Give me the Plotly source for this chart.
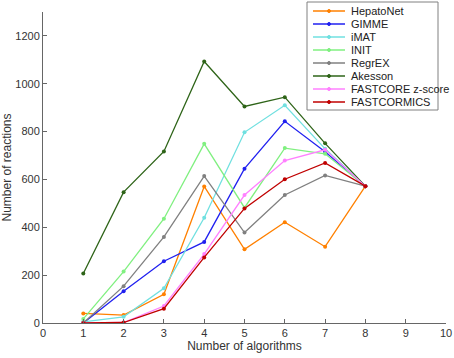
import plotly.graph_objects as go

x_vals = [1, 2, 3, 4, 5, 6, 7, 8]

series_names = ["HepatoNet", "GIMME", "iMAT", "INIT", "RegrEX", "Akesson",
                "FASTCORE z-score", "FASTCORMICS"]

hepatonet = [40, 33, 120, 571, 308, 421, 319, 572]
gimme = [0, 133, 258, 339, 645, 843, 716, 572]
imat = [5, 26, 145, 440, 797, 910, 728, 572]
init = [17, 215, 436, 749, 482, 731, 707, 572]
regrex = [0, 154, 360, 614, 378, 535, 617, 572]
akesson = [207, 547, 717, 1093, 905, 944, 751, 572]
fastcore = [0, 2, 71, 288, 535, 679, 724, 572]
fastcormics = [0, 2, 60, 274, 479, 601, 669, 572]

series_values = [hepatonet, gimme, imat, init, regrex, akesson, fastcore, fastcormics]
colors = ["#FF8000", "#2020F0", "#70E0E0", "#80F080", "#808080", "#2E6418",
          "#FF80FF", "#C00000"]

x_tickvals = [0, 1, 2, 3, 4, 5, 6, 7, 8, 9, 10]
y_tickvals = [0, 200, 400, 600, 800, 1000, 1200]

W, H = 454, 358
ML, MR, MT, MB = 43, 8, 12, 35
PW, PH = W - ML - MR, H - MT - MB

FONT = "Liberation Sans, Arial, sans-serif"

fig = go.Figure()
for name, vals, col in zip(series_names, series_values, colors):
    fig.add_trace(go.Scatter(
        x=x_vals, y=vals, name=name, mode="lines+markers",
        line=dict(color=col, width=1.3),
        marker=dict(color=col, size=4),
        showlegend=False,
    ))


def px_x(p):
    return (p - ML) / PW


def px_y(p):
    return (H - MB - p) / PH


# custom compact legend (layout only)
shapes = []
annotations = []
box_l, box_r, box_t, box_b = 307, 438, 2, 110
shapes.append(dict(type="rect", xref="paper", yref="paper",
                   x0=px_x(box_l), x1=px_x(box_r), y0=px_y(box_b), y1=px_y(box_t),
                   line=dict(color="#808080", width=1), fillcolor="white", layer="above"))
row0, step = 11, 13
for i, (name, col) in enumerate(zip(series_names, colors)):
    cy = row0 + i * step
    shapes.append(dict(type="line", xref="paper", yref="paper",
                       x0=px_x(313), x1=px_x(345), y0=px_y(cy), y1=px_y(cy),
                       line=dict(color=col, width=1.5), layer="above"))
    shapes.append(dict(type="circle", xref="paper", yref="paper",
                       x0=px_x(327.5), x1=px_x(330.5), y0=px_y(cy + 1.5), y1=px_y(cy - 1.5),
                       line=dict(color=col, width=1), fillcolor=col, layer="above"))
    annotations.append(dict(text=name, xref="paper", yref="paper",
                            x=px_x(349), y=px_y(cy), xanchor="left", yanchor="middle",
                            showarrow=False,
                            font=dict(family=FONT, size=11, color="#222222")))

fig.update_layout(
    width=W, height=H,
    margin=dict(l=ML, r=MR, t=MT, b=MB),
    paper_bgcolor="white", plot_bgcolor="white",
    font=dict(family=FONT, size=11, color="#333333"),
    showlegend=False,
    shapes=shapes,
    annotations=annotations,
    xaxis=dict(
        range=[0, 10], tickvals=x_tickvals, showgrid=False, zeroline=False,
        showline=True, linecolor="#666666", linewidth=1,
        ticks="inside", ticklen=4, tickcolor="#666666",
        title=dict(text="Number of algorithms", standoff=3,
                   font=dict(family=FONT, size=12, color="#333333")),
        automargin=False,
    ),
    yaxis=dict(
        range=[0, 1300], tickvals=y_tickvals, showgrid=False, zeroline=False,
        showline=True, linecolor="#666666", linewidth=1,
        ticks="inside", ticklen=4, tickcolor="#666666",
        title=dict(text="Number of reactions", standoff=4,
                   font=dict(family=FONT, size=12, color="#333333")),
        automargin=False,
    ),
)

fig.write_html(
    "out.html",
    config={"displayModeBar": False},
    post_script="document.body.style.margin='0';document.body.style.overflow='hidden';",
)
